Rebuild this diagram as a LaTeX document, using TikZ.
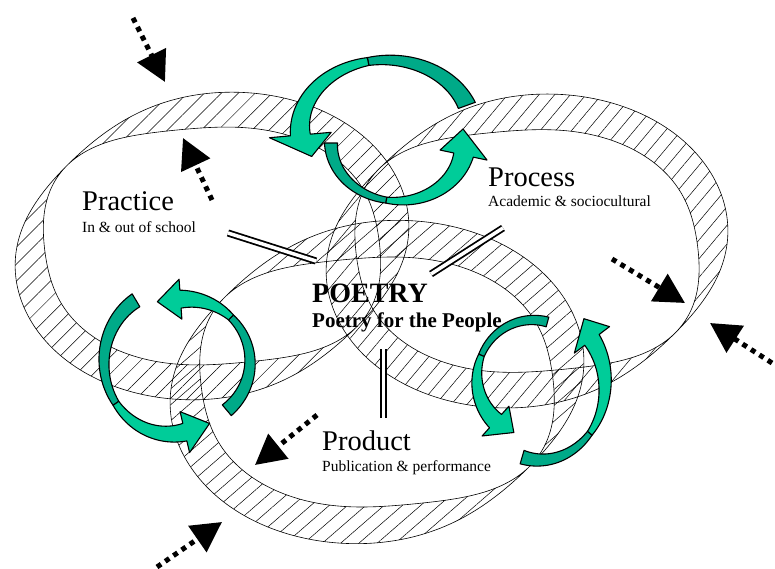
\documentclass[tikz,border=0pt]{standalone}
\usepackage{fontspec}
\setmainfont{Liberation Serif}
\usetikzlibrary{patterns.meta,arrows.meta}
\definecolor{tealL}{RGB}{0,204,153}
\definecolor{tealD}{RGB}{0,170,136}
\tikzset{
  declare function={pinch(\t)=pow(cos(\t+133)*cos(\t+133),4);},
  ringband/.style={draw=black, line width=0.6pt, even odd rule},
  arrowbody/.style={draw=black, line width=1.1pt, line join=round},
  dblline/.style={draw=black, line width=1.8pt, double=white, double distance=3.5pt},
  dotarrow/.style={draw=black, line width=5pt, dash pattern=on 5pt off 5pt,
    -{Triangle[length=30pt,width=31pt]}},
  lbl/.style={anchor=base west, inner sep=0pt},
  bigtxt/.style={font=\fontsize{28.5}{30}\selectfont},
  smalltxt/.style={font=\fontsize{15.5}{17}\selectfont}
}
\pgfkeys{/ta/.cd, cx/.store in=\acx, cy/.store in=\acy, rx/.store in=\arx, ry/.store in=\ary,
  ta/.store in=\ata, tm/.store in=\atm, tb/.store in=\atb, tt/.store in=\attip,
  wa/.store in=\awa, wm/.store in=\awm, wb/.store in=\awb, hw/.store in=\ahw,
  to/.store in=\atoff, to=0}
\newcommand\tealarrow[1]{%
  \pgfkeys{/ta/.cd,to=0,#1}%
  \filldraw[arrowbody, fill=tealD]
    plot[domain=0:1,samples=30,variable=\q]
      ({\acx+(\arx+0.5*(\awa+(\awm-\awa)*\q))*cos(\ata+(\atm-\ata)*\q)},
       {\acy+(\ary+0.5*(\awa+(\awm-\awa)*\q))*sin(\ata+(\atm-\ata)*\q)})
    -- plot[domain=0:1,samples=30,variable=\q]
      ({\acx+(\arx-0.5*(\awm+(\awa-\awm)*\q))*cos(\atm+(\ata-\atm)*\q)},
       {\acy+(\ary-0.5*(\awm+(\awa-\awm)*\q))*sin(\atm+(\ata-\atm)*\q)})
    -- cycle;
  \filldraw[arrowbody, fill=tealL]
    plot[domain=0:1,samples=30,variable=\q]
      ({\acx+(\arx+0.5*(\awm+(\awb-\awm)*\q))*cos(\atm+(\atb-\atm)*\q)},
       {\acy+(\ary+0.5*(\awm+(\awb-\awm)*\q))*sin(\atm+(\atb-\atm)*\q)})
    -- ({\acx+(\arx+\ahw)*cos(\atb)},{\acy+(\ary+\ahw)*sin(\atb)})
    -- ({\acx+(\arx+\atoff)*cos(\attip)},{\acy+(\ary+\atoff)*sin(\attip)})
    -- ({\acx+(\arx-\ahw)*cos(\atb)},{\acy+(\ary-\ahw)*sin(\atb)})
    -- plot[domain=0:1,samples=30,variable=\q]
      ({\acx+(\arx-0.5*(\awb+(\awm-\awb)*\q))*cos(\atb+(\atm-\atb)*\q)},
       {\acy+(\ary-0.5*(\awb+(\awm-\awb)*\q))*sin(\atb+(\atm-\atb)*\q)})
    -- cycle;
}
% ring: #1 cx, #2 cy, #3 scale, #4 hatch angle
\newcommand\ring[4]{%
  \path[ringband, pattern={Lines[angle=#4,distance=12pt,line width=0.5pt]}]
    plot[domain=0:360,samples=241,variable=\q]
      ({#1+#3*(0.9848*(203.3-10*pinch(\q))*cos(\q)+0.1736*(155.4-10*pinch(\q))*sin(\q))},
       {#2+#3*(-0.1736*(203.3-10*pinch(\q))*cos(\q)+0.9848*(155.4-10*pinch(\q))*sin(\q))}) -- cycle
    plot[domain=0:360,samples=241,variable=\q]
      ({#1+#3*(0.9848*(167.3+26*pinch(\q))*cos(\q)+0.1736*(119.4+26*pinch(\q))*sin(\q))},
       {#2+#3*(-0.1736*(167.3+26*pinch(\q))*cos(\q)+0.9848*(119.4+26*pinch(\q))*sin(\q))}) -- cycle;
}
\begin{document}
\begin{tikzpicture}[x=1pt,y=-1pt]
\useasboundingbox (0,0) rectangle (775,569);
% rings
\ring{212}{246}{0.98}{45}
\ring{527}{251}{1.0}{50}
\ring{377}{382}{1.03}{41}
% double-line connectors
\coordinate (dbl1a) at (228,233); \coordinate (dbl1b) at (316,261);
\coordinate (dbl2a) at (431,274); \coordinate (dbl2b) at (503,228);
\coordinate (dbl3a) at (383.5,349); \coordinate (dbl3b) at (383.5,418);
\draw[dblline] (dbl1a) -- (dbl1b);
\draw[dblline] (dbl2a) -- (dbl2b);
\draw[dblline] (dbl3a) -- (dbl3b);
% teal cycle arrows
\tealarrow{cx=386,cy=129,rx=86,ry=69,ta=-20,tm=-102,tb=-185,tt=-205,wa=18,wm=8,wb=20,hw=31,to=-4}
\tealarrow{cx=398,cy=143,rx=67,ry=58,ta=180,tm=100,tb=12,tt=-14,wa=13,wm=6,wb=20,hw=24}
\tealarrow{cx=170,cy=362,rx=66,ry=72,ta=239,tm=145,tb=77,tt=55,wa=15,wm=7,wb=18,hw=21,to=3}
\tealarrow{cx=185,cy=362,rx=65,ry=63,ta=50,tm=-45,tb=-94,tt=-114,wa=14,wm=7,wb=18,hw=20,to=3}
\tealarrow{cx=533,cy=378,rx=56,ry=58,ta=-75,tm=-157,tb=-228,tt=-250,wa=10,wm=6,wb=18,hw=20}
\tealarrow{cx=540,cy=385,rx=65,ry=75,ta=106,tm=40,tb=-37,tt=-53,wa=14,wm=6,wb=18,hw=22,to=8}
% dotted arrows
\coordinate (d1s) at (133,18);  \coordinate (d1t) at (165,82);
\coordinate (d2s) at (212,200); \coordinate (d2t) at (183,138);
\coordinate (d3s) at (612,259); \coordinate (d3t) at (685,303);
\coordinate (d4s) at (772,363); \coordinate (d4t) at (710,323);
\coordinate (d5s) at (317,415); \coordinate (d5t) at (255,465);
\coordinate (d6s) at (157,567); \coordinate (d6t) at (222,522);
\draw[dotarrow] (d1s) -- (d1t);
\draw[dotarrow] (d2s) -- (d2t);
\draw[dotarrow] (d3s) -- (d3t);
\draw[dotarrow] (d4s) -- (d4t);
\draw[dotarrow] (d5s) -- (d5t);
\draw[dotarrow] (d6s) -- (d6t);
% texts
\node[lbl, bigtxt] (practice) at (82,211) {Practice};
\node[lbl, smalltxt] (practicesub) at (82,232) {In \& out of school};
\node[lbl, bigtxt] (process) at (488,187) {Process};
\node[lbl, smalltxt] (processsub) at (488,207) {Academic \& sociocultural};
\node[lbl, font=\bfseries\fontsize{28}{30}\selectfont] (poetry) at (312,302) {POETRY};
\node[lbl, font=\bfseries\fontsize{21}{23}\selectfont] (people) at (312,327) {Poetry for the People};
\node[lbl, bigtxt] (product) at (322,450) {Product};
\node[lbl, smalltxt] (productsub) at (322,471) {Publication \& performance};
\end{tikzpicture}
\end{document}
